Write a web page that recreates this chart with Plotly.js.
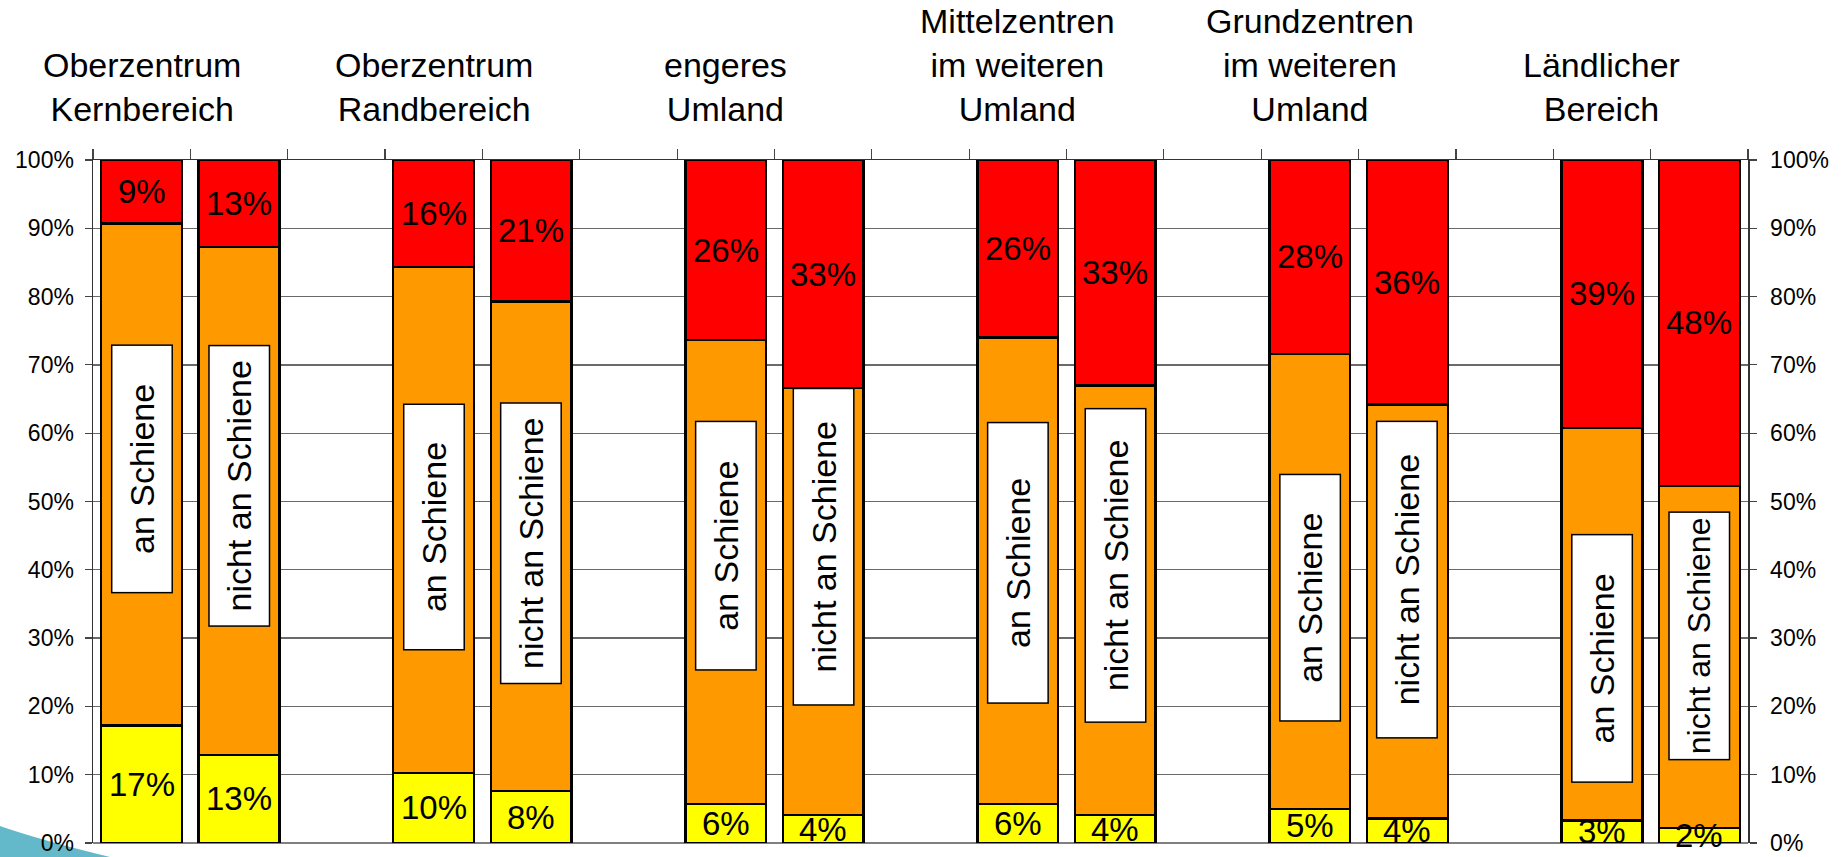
<!DOCTYPE html>
<html>
<head>
<meta charset="utf-8">
<script src="https://cdn.plot.ly/plotly-3.0.1.min.js"></script>
<style>
  html, body { margin: 0; padding: 0; background: #ffffff; }
  #chart { width: 1845px; height: 857px; }
</style>
</head>
<body>
<div id="chart"></div>
<script>
// ---- data ----
var groups = [
  'Oberzentrum<br>Kernbereich',
  'Oberzentrum<br>Randbereich',
  'engeres<br>Umland',
  'Mittelzentren<br>im weiteren<br>Umland',
  'Grundzentren<br>im weiteren<br>Umland',
  'Ländlicher<br>Bereich'
];
var railLabels = ['an Schiene', 'nicht an Schiene'];
var yellowVals = [17.2, 12.9, 10.3, 7.6, 5.7, 4.1, 5.7, 4.1, 5.0, 3.6, 3.3, 2.2];
var orangeVals = [73.5, 74.4, 74.0, 71.7, 67.9, 62.5, 68.3, 62.9, 66.6, 60.6, 57.5, 50.1];
var redVals    = [9.3, 12.7, 15.7, 20.7, 26.4, 33.4, 26.0, 33.0, 28.4, 35.8, 39.2, 47.7];
var yTicks = [0, 10, 20, 30, 40, 50, 60, 70, 80, 90, 100];
var yTickText = ['0%', '10%', '20%', '30%', '40%', '50%', '60%', '70%', '80%', '90%', '100%'];

// ---- styling / placement (not data) ----
var labelBoxCenter = [54.8, 52.3, 46.3, 43.9, 43.5, 43.4, 41.0, 40.6, 35.9, 38.6, 27.1, 30.3];
var labelBoxLength = [249, 282, 247, 282, 250, 318, 282, 315, 248, 318, 249, 249];
var labelFontSize  = [34, 34, 34, 34, 34, 34, 34, 34, 34, 34, 34, 32];

var FONT = 'Liberation Sans, Arial, sans-serif';
var W = 1845, H = 857;
var L = 93, R = 97, T = 160, B = 14;
var plotW = W - L - R, plotH = H - T - B;
function pxX(px) { return (px - L) / plotW; }
function pxY(py) { return (H - B - py) / plotH; }

// bar positions: pairs of bars, one empty slot between groups
var xs = [];
for (var i = 0; i < yellowVals.length; i++) {
  xs.push(Math.floor(i / 2) * 3 + (i % 2));
}
var boundaries = [];
for (var b = -0.5; b <= 16.5; b += 1) boundaries.push(b);

var barCommon = {
  type: 'bar',
  x: xs,
  width: 0.83,
  hoverinfo: 'skip',
  showlegend: false,
  textposition: 'none'
};

var traces = [
  Object.assign({}, barCommon, {
    y: yellowVals,
    marker: { color: '#FFFF00', line: { color: '#000000', width: 2.3 } }
  }),
  Object.assign({}, barCommon, {
    y: orangeVals,
    marker: { color: '#FF9900', line: { color: '#000000', width: 2.3 } }
  }),
  Object.assign({}, barCommon, {
    y: redVals,
    marker: { color: '#FF0000', line: { color: '#000000', width: 2.3 } }
  }),
  { type: 'scatter', x: [null], y: [null], yaxis: 'y2', showlegend: false, hoverinfo: 'skip' }
];

var annotations = [];
// category titles above the first bar of each pair
groups.forEach(function (g, gi) {
  annotations.push({
    x: gi * 3, xref: 'x', y: pxY(130), yref: 'paper',
    text: g, showarrow: false, xanchor: 'center', yanchor: 'bottom',
    align: 'center',
    font: { family: FONT, size: 34, color: '#000000' }
  });
});
// percentage labels centred in the yellow and red segments
for (var j = 0; j < xs.length; j++) {
  var yellowMid = yellowVals[j] / 2;
  var redMid = yellowVals[j] + orangeVals[j] + redVals[j] / 2;
  [[yellowVals[j], yellowMid], [redVals[j], redMid]].forEach(function (p) {
    annotations.push({
      x: xs[j], xref: 'x', y: p[1], yref: 'y',
      text: Math.round(p[0]) + '%', showarrow: false,
      xanchor: 'center', yanchor: 'middle',
      font: { family: FONT, size: 33, color: '#000000' }
    });
  });
}
// rotated white boxes inside the orange segment
for (var k = 0; k < xs.length; k++) {
  annotations.push({
    x: xs[k], xref: 'x', y: labelBoxCenter[k], yref: 'y',
    text: railLabels[k % 2], showarrow: false, textangle: -90,
    xanchor: 'center', yanchor: 'middle',
    width: labelBoxLength[k] - 3, height: 59,
    bgcolor: '#FFFFFF', bordercolor: '#000000', borderwidth: 1.5, borderpad: 0,
    font: { family: FONT, size: labelFontSize[k], color: '#000000' }
  });
}

var layout = {
  width: W, height: H,
  margin: { l: L, r: R, t: T, b: B, pad: 0 },
  paper_bgcolor: '#FFFFFF', plot_bgcolor: '#FFFFFF',
  barmode: 'stack',
  font: { family: FONT, color: '#000000' },
  xaxis: {
    range: [-0.5, 16.5], side: 'top', showgrid: false, zeroline: false,
    showline: true, linecolor: '#333333', linewidth: 1.5,
    tickmode: 'array', tickvals: boundaries, ticktext: boundaries.map(function () { return ''; }),
    ticks: 'outside', ticklen: 10, tickwidth: 1.2, tickcolor: '#444444',
    showticklabels: false, fixedrange: true
  },
  yaxis: {
    range: [0, 100], tickmode: 'array', tickvals: yTicks, ticktext: yTickText,
    showgrid: true, gridcolor: '#6a6a6a', gridwidth: 1.4,
    zeroline: true, zerolinecolor: '#808080', zerolinewidth: 2.5,
    showline: true, linecolor: '#333333', linewidth: 1.5,
    ticks: 'outside', ticklen: 7, tickwidth: 1.2, tickcolor: '#444444',
    ticklabelstandoff: 6,
    tickfont: { family: FONT, size: 23, color: '#000000' }, fixedrange: true
  },
  yaxis2: {
    range: [0, 100], overlaying: 'y', side: 'right', tickmode: 'array',
    tickvals: yTicks, ticktext: yTickText, showgrid: false, zeroline: false,
    showline: true, linecolor: '#333333', linewidth: 1.5,
    ticks: 'outside', ticklen: 7, tickwidth: 1.2, tickcolor: '#444444',
    ticklabelstandoff: 9,
    tickfont: { family: FONT, size: 23, color: '#000000' }, fixedrange: true
  },
  annotations: annotations,
  shapes: [{
    type: 'path', xref: 'paper', yref: 'paper', layer: 'below',
    path: 'M ' + pxX(0) + ',' + pxY(826) + ' Q ' + pxX(40) + ',' + pxY(840) + ' ' + pxX(110) + ',' + pxY(857) +
          ' L ' + pxX(0) + ',' + pxY(857) + ' Z',
    fillcolor: '#63b9c9', line: { width: 0 }
  }]
};

Plotly.newPlot('chart', traces, layout, { displayModeBar: false, staticPlot: true });
</script>
</body>
</html>
